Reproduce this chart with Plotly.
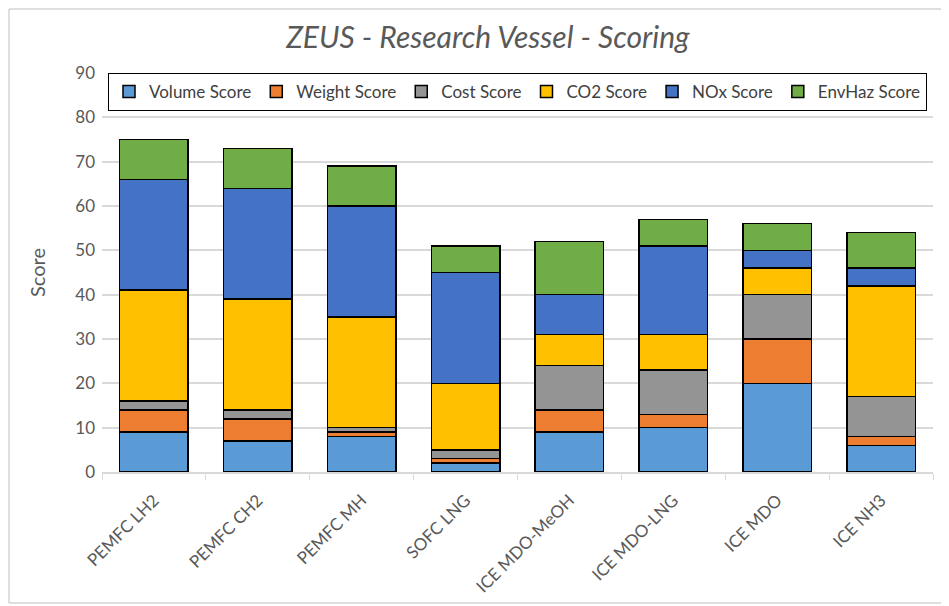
import plotly.graph_objects as go

categories = ["PEMFC LH2", "PEMFC CH2", "PEMFC MH", "SOFC LNG", "ICE MDO-MeOH", "ICE MDO-LNG", "ICE MDO", "ICE NH3"]
volume = [9, 7, 8, 2, 9, 10, 20, 6]
weight = [5, 5, 1, 1, 5, 3, 10, 2]
cost = [2, 2, 1, 2, 10, 10, 10, 9]
co2 = [25, 25, 25, 15, 7, 8, 6, 25]
nox = [25, 25, 25, 25, 9, 20, 4, 4]
envhaz = [9, 9, 9, 6, 12, 6, 6, 8]

series = [
    ("Volume Score", volume, "#5B9BD5"),
    ("Weight Score", weight, "#ED7D31"),
    ("Cost Score", cost, "#949494"),
    ("CO2 Score", co2, "#FFC000"),
    ("NOx Score", nox, "#4472C4"),
    ("EnvHaz Score", envhaz, "#70AD47"),
]

FONT = "Lato"
W, H = 941, 598
L, R, T, B = 94, 16, 65, 134
pw, ph = W - L - R, H - T - B

fig = go.Figure()
for name, vals, col in series:
    fig.add_trace(go.Bar(x=categories, y=vals, name=name,
                         marker=dict(color=col, line=dict(color="black", width=1.5))))

fig.update_layout(
    barmode="stack",
    bargap=0.34,
    width=W, height=H,
    paper_bgcolor="white", plot_bgcolor="white",
    margin=dict(l=L, r=R, t=T, b=B, autoexpand=False),
    font=dict(family=FONT, color="#595959", size=17),
    title=dict(text="<i>ZEUS - Research Vessel - Scoring</i>", x=0.51, xanchor="center",
               y=1 - 29 / H, yanchor="middle", font=dict(size=30, color="#595959", family=FONT)),
    legend=dict(orientation="h", x=0.5, xanchor="center", y=1.0, yanchor="top",
                bordercolor="black", borderwidth=1, bgcolor="white",
                font=dict(size=17, color="#404040", family=FONT),
                traceorder="normal", itemwidth=30, tracegroupgap=0),
    xaxis=dict(showline=True, linecolor="#d9d9d9", linewidth=1.5,
               ticks="outside", tickson="boundaries", ticklen=6, tickcolor="#d9d9d9",
               tickangle=-45, ticklabelstandoff=10,
               tickfont=dict(size=17, color="#595959", family=FONT)),
    yaxis=dict(range=[0, 90], dtick=10, showgrid=True, gridcolor="#d9d9d9", gridwidth=1.5,
               zeroline=False, showline=False, ticks="", ticklabelstandoff=6,
               title=dict(text="Score", font=dict(size=20, color="#595959"), standoff=24),
               tickfont=dict(size=17, color="#595959")),
    shapes=[dict(type="rect", xref="paper", yref="paper",
                 x0=-(L - 1) / pw, x1=1 + (R - 3) / pw, y0=-(B - 3) / ph, y1=1 + (T - 1) / ph,
                 line=dict(color="#bfbfbf", width=1), fillcolor="rgba(0,0,0,0)", layer="below")],
)

fig.write_html("out.html")
